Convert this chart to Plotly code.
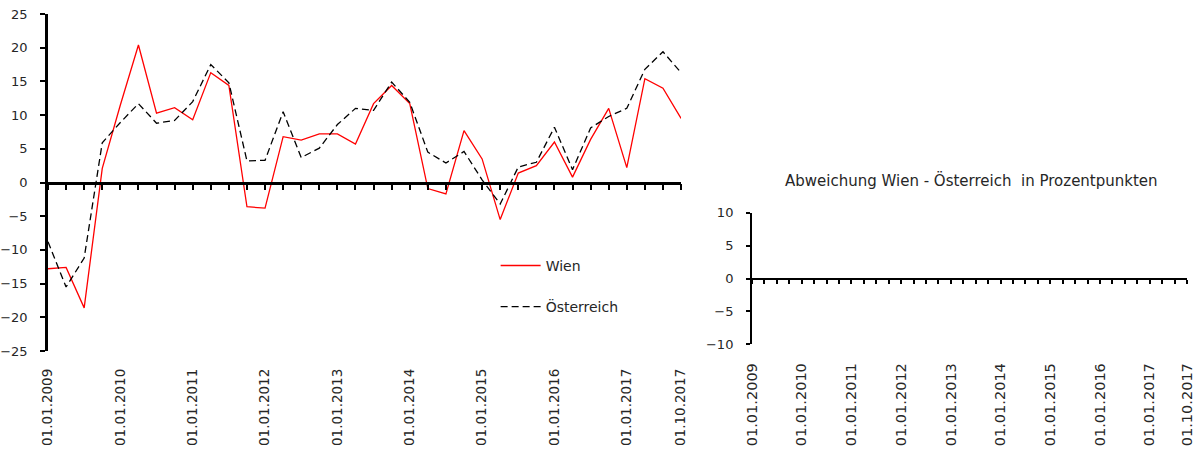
import plotly.graph_objects as go

# Quarterly reporting dates 2009 Q1 .. 2017 Q4
dates = [f"01.{m:02d}.{y}" for y in range(2009, 2018) for m in (1, 4, 7, 10)]

# Year-on-year change in percent
wien = [-12.8, -12.6, -18.6, 2.1, 11.5, 20.4, 10.3, 11.1, 9.3, 16.3, 14.4, -3.6,
        -3.8, 6.8, 6.3, 7.2, 7.2, 5.7, 11.7, 14.4, 11.7, -0.9, -1.7, 7.7,
        3.5, -5.5, 1.4, 2.5, 6.0, 0.8, 6.4, 11.0, 2.2, 15.4, 14.0, 9.5]
oesterreich = [-8.8, -15.5, -11.2, 5.9, 8.9, 11.7, 8.8, 9.2, 12.0, 17.5, 14.8, 3.2,
               3.3, 10.5, 3.7, 5.1, 8.6, 11.0, 10.7, 14.9, 11.9, 4.5, 2.9, 4.6,
               0.4, -3.2, 2.3, 3.0, 8.2, 1.9, 8.1, 9.8, 11.0, 16.8, 19.4, 16.3]
# Deviation panel carries no plotted values
abweichung = [None] * len(dates)

label_dates = [d for d in dates if d.startswith("01.01.")] + [dates[-1]]
title_right = "Abweichung Wien - Österreich  in Prozentpunkten"

FONT = "Century Gothic, URW Gothic, DejaVu Sans, sans-serif"
TXT = "#262626"
n_last = len(dates) - 1
positions = list(range(len(dates)))

fig = go.Figure()
fig.add_trace(go.Scatter(x=dates, y=wien, name="Wien", mode="lines",
                         line=dict(color="#ff0000", width=1.3),
                         legendgroup="a", xaxis="x", yaxis="y"))
fig.add_trace(go.Scatter(x=dates, y=oesterreich, name="Österreich", mode="lines",
                         line=dict(color="#000000", width=1.3, dash="7px,4px"),
                         legendgroup="b", xaxis="x", yaxis="y"))
fig.add_trace(go.Scatter(x=dates, y=abweichung, mode="lines", showlegend=False,
                         line=dict(color="#000000", width=1.3),
                         xaxis="x3", yaxis="y2"))
# empty series hooking the zero-line tick axes into their subplots
fig.add_trace(go.Scatter(x=positions, y=abweichung, mode="lines", showlegend=False,
                         hoverinfo="skip", xaxis="x2", yaxis="y"))
fig.add_trace(go.Scatter(x=positions, y=abweichung, mode="lines", showlegend=False,
                         hoverinfo="skip", xaxis="x4", yaxis="y2"))

ydom_r = [0.02, 0.41]
label_axis = dict(type="category", categoryorder="array", categoryarray=dates,
                  range=[0, n_last], tickmode="array", tickvals=label_dates,
                  ticktext=label_dates, tickangle=-90, showline=False,
                  ticks="", showgrid=False, zeroline=False, automargin=False)
tick_axis = dict(type="linear", range=[0, n_last], dtick=1, tick0=0,
                 showticklabels=False, showline=True, linecolor="black",
                 ticks="outside", tickcolor="black", showgrid=False,
                 zeroline=False, anchor="free", automargin=False)

fig.update_layout(
    width=1200, height=450,
    paper_bgcolor="white", plot_bgcolor="white",
    margin=dict(l=48, r=13, t=14, b=99, autoexpand=False),
    font=dict(family=FONT, size=13, color=TXT),
    xaxis=dict(label_axis, domain=[0, 0.5558], anchor="y",
               ticklabelstandoff=14,
               tickfont=dict(family=FONT, size=13.5, color=TXT)),
    xaxis2=dict(tick_axis, domain=[0, 0.5558], overlaying="x", position=0.5,
                linewidth=2.5, ticklen=6, tickwidth=2),
    xaxis3=dict(label_axis, domain=[0.6181, 1.0], anchor="y2",
                ticklabelstandoff=15,
                tickfont=dict(family=FONT, size=14.5, color=TXT)),
    xaxis4=dict(tick_axis, domain=[0.6181, 1.0], overlaying="x3",
                position=(ydom_r[0] + ydom_r[1]) / 2,
                linewidth=2, ticklen=4, tickwidth=1.8),
    yaxis=dict(domain=[0, 1], range=[-25, 25], dtick=5, anchor="x",
               showline=True, linecolor="black", linewidth=2.5,
               ticks="outside", ticklen=5, tickwidth=2, tickcolor="black",
               showgrid=False, zeroline=False, ticklabelstandoff=10,
               automargin=False,
               tickfont=dict(family=FONT, size=13, color=TXT)),
    yaxis2=dict(domain=ydom_r, range=[-10, 10], dtick=5, anchor="x3",
                showline=True, linecolor="black", linewidth=2,
                ticks="outside", ticklen=4, tickwidth=1.8, tickcolor="black",
                showgrid=False, zeroline=False, ticklabelstandoff=10,
                automargin=False,
                tickfont=dict(family=FONT, size=13, color=TXT)),
    legend=dict(x=0.393, y=0.30, xanchor="left", yanchor="top",
                bgcolor="rgba(0,0,0,0)", tracegroupgap=20,
                traceorder="grouped", itemwidth=40,
                font=dict(family=FONT, size=14, color=TXT)),
    annotations=[dict(text=title_right, xref="paper", yref="paper",
                      x=0.811, y=0.505, xanchor="center", yanchor="middle",
                      showarrow=False,
                      font=dict(family=FONT, size=15, color=TXT))],
)

fig.write_html("out.html")
